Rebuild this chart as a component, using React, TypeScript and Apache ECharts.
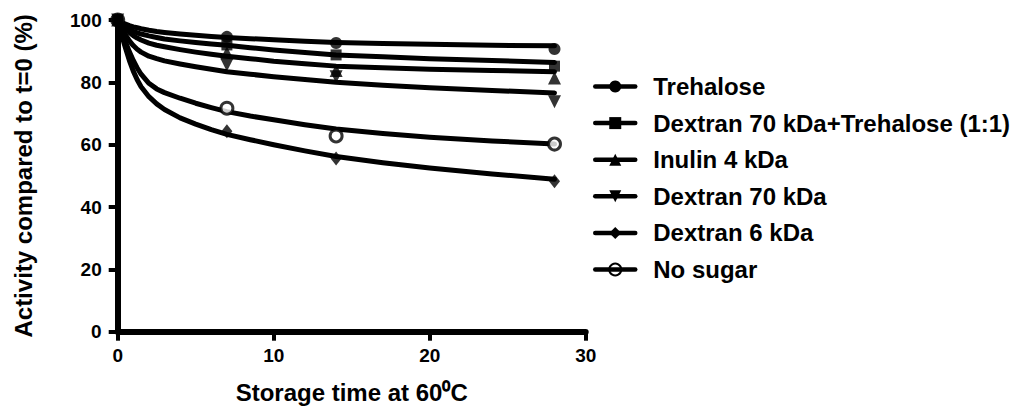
import React, { useEffect, useRef } from "react";
import * as echarts from "echarts";

const FONT = "'Liberation Sans', Arial, sans-serif";

const seriesNames = [
  "Trehalose",
  "Dextran 70 kDa+Trehalose (1:1)",
  "Inulin 4 kDa",
  "Dextran 70 kDa",
  "Dextran 6 kDa",
  "No sugar",
];

// fitted curves
const curveX = [0, 0.15, 0.3, 0.5, 0.75, 1, 1.25, 1.5, 2, 2.5, 3, 4, 5, 6, 7, 8.5, 10, 12, 14, 17, 20, 24, 28];
const curveTrehalose = [100, 99.5, 99.1, 98.7, 98.2, 97.8, 97.5, 97.2, 96.7, 96.3, 96.0, 95.5, 95.1, 94.7, 94.4, 94.0, 93.7, 93.2, 92.8, 92.5, 92.2, 91.9, 91.7];
const curveDexTre = [100, 99.2, 98.6, 97.8, 97.0, 96.4, 95.9, 95.5, 94.9, 94.4, 93.9, 93.3, 92.8, 92.3, 91.9, 91.1, 90.4, 89.6, 88.8, 88.2, 87.6, 87.0, 86.4];
const curveInulin = [100, 99.0, 98.1, 97.1, 96.0, 95.0, 94.2, 93.6, 92.6, 91.9, 91.4, 90.5, 89.7, 89.0, 88.4, 87.6, 86.8, 86.0, 85.2, 84.7, 84.2, 83.8, 83.4];
const curveDex70 = [100, 98.4, 96.9, 95.2, 93.3, 91.8, 90.6, 89.7, 88.4, 87.6, 86.9, 85.9, 85.0, 84.2, 83.4, 82.6, 81.8, 80.9, 80.0, 79.1, 78.3, 77.4, 76.6];
const curveDex6 = [100, 97.2, 94.4, 91.0, 87.0, 83.6, 80.8, 78.6, 75.4, 73.1, 71.3, 68.6, 66.6, 64.8, 63.3, 61.6, 60.0, 58.0, 56.2, 54.2, 52.5, 50.6, 48.9];
const curveNoSugar = [100, 97.8, 95.6, 93.0, 89.8, 87.0, 84.6, 82.6, 79.7, 77.9, 76.7, 74.9, 73.3, 71.9, 70.6, 69.2, 68.0, 66.4, 65.0, 63.6, 62.4, 61.2, 60.2];

// measured points
const measuredX = [0, 7, 14, 28];
const ptsTrehalose = [100, 94.6, 92.6, 90.7];
const ptsDexTre = [100, 92.0, 88.8, 85.2];
const ptsInulin = [100, 89.5, 83.8, 81.4];
const ptsDex70 = [100, 85.6, 81.8, 73.8];
const ptsDex6 = [100, 64.3, 55.6, 48.3];
const ptsNoSugar = [100, 71.7, 62.8, 60.2];

const xTicks = { min: 0, max: 30, interval: 10 };
const yTicks = { min: 0, max: 100, interval: 20 };

const curves = [curveTrehalose, curveDexTre, curveInulin, curveDex70, curveDex6, curveNoSugar];
const points = [ptsTrehalose, ptsDexTre, ptsInulin, ptsDex70, ptsDex6, ptsNoSugar];
const symbols = ["circle", "rect", "triangle", "triangle", "diamond", "circle"];
const rotations = [0, 0, 0, 180, 0, 0];
const sizes: any[] = [12, 11, 13, 13, [11, 14], 12];

export default function App() {
  const ref = useRef<HTMLDivElement>(null);
  useEffect(() => {
    if (!ref.current) return;
    const chart = echarts.init(ref.current, undefined, { renderer: "svg" });
    const lineSeries = seriesNames.map((name, i) => ({
      type: "line",
      name,
      data: curveX.map((x, j) => [x, curves[i][j]]),
      showSymbol: false,
      symbol: symbols[i],
      symbolRotate: rotations[i],
      smooth: false,
      lineStyle: { color: "#000", width: 5, join: "round", cap: "round" },
      itemStyle:
        i === 5
          ? { color: "transparent", borderColor: "#000", borderWidth: 2.5 }
          : { color: "#000" },
      z: 2,
    }));
    const scatterSeries = seriesNames.map((name, i) => ({
      type: "scatter",
      name: name + " (data)",
      data: measuredX.map((x, j) => [x, points[i][j]]),
      symbol: symbols[i],
      symbolRotate: rotations[i],
      symbolSize: sizes[i],
      clip: false,
      itemStyle:
        i === 5
          ? { color: "#fff", borderColor: "#000", borderWidth: 3 }
          : { color: "#000" },
      z: 3 + (5 - i),
    }));
    chart.setOption({
      animation: false,
      backgroundColor: "#fff",
      grid: { left: 117.7, right: 435.3, top: 20, bottom: 79.3, containLabel: false },
      legend: {
        data: seriesNames,
        orient: "vertical",
        left: 588,
        top: 69,
        itemWidth: 40,
        itemHeight: 15,
        itemGap: 11.6,
        lineStyle: { width: 4.5, color: "#000" },
        textStyle: {
          fontFamily: FONT,
          fontWeight: "bold",
          fontSize: 24,
          lineHeight: 25,
          color: "#000",
          padding: [0, 0, 0, 13],
        },
      },
      xAxis: {
        type: "value",
        ...xTicks,
        name: "Storage time at 60\u2070C",
        nameLocation: "middle",
        nameGap: 49,
        nameTextStyle: { fontFamily: FONT, fontWeight: "bold", fontSize: 24, color: "#000" },
        axisLine: { show: true, lineStyle: { color: "#000", width: 6 } },
        axisTick: { show: true, length: 9, lineStyle: { color: "#000", width: 4 } },
        axisLabel: { fontFamily: FONT, fontWeight: "bold", fontSize: 19, color: "#000", margin: 14 },
        splitLine: { show: false },
      },
      yAxis: {
        type: "value",
        ...yTicks,
        name: "Activity compared to t=0 (%)",
        nameLocation: "middle",
        nameGap: 82,
        nameTextStyle: { fontFamily: FONT, fontWeight: "bold", fontSize: 24, color: "#000" },
        axisLine: { show: true, lineStyle: { color: "#000", width: 6 } },
        axisTick: { show: true, length: 9, lineStyle: { color: "#000", width: 4 } },
        axisLabel: { fontFamily: FONT, fontWeight: "bold", fontSize: 19, color: "#000", margin: 16 },
        splitLine: { show: false },
      },
      series: [...lineSeries, ...scatterSeries],
    });
    return () => chart.dispose();
  }, []);
  return (
    <div
      ref={ref}
      style={{ position: "fixed", left: 0, top: 0, width: 1021, height: 411, background: "#fff" }}
    />
  );
}
